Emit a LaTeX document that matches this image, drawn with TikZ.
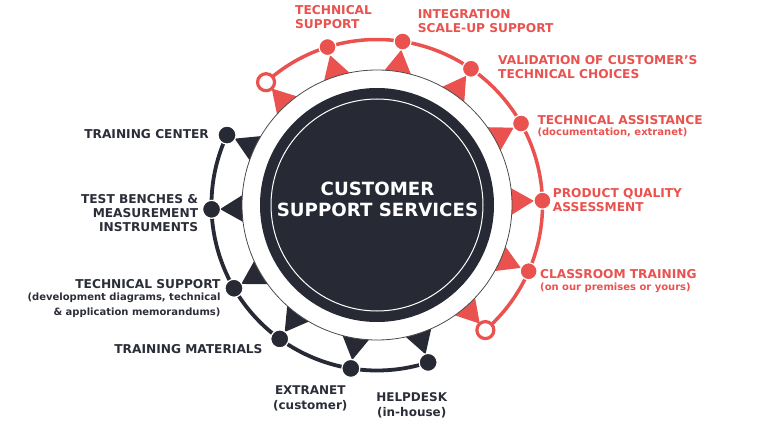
\documentclass[tikz,border=0pt]{standalone}
\usepackage{fontspec}
\setmainfont{DejaVu Sans}
\definecolor{cred}{HTML}{E9524F}
\definecolor{cdark}{HTML}{272A35}
\definecolor{ctext}{HTML}{2B2E39}
\definecolor{cgrey}{HTML}{4A4A4A}
\begin{document}
\begin{tikzpicture}[x=1pt,y=1pt,
  redline/.style={draw=cred,line width=3.5pt},
  darkline/.style={draw=cdark,line width=3.8pt},
  reddot/.style={circle,fill=cred,draw=white,line width=1.2pt,minimum size=17pt,inner sep=0pt},
  opendot/.style={circle,fill=white,draw=cred,line width=3.2pt,minimum size=17pt,inner sep=0pt},
  darkdot/.style={circle,fill=cdark,draw=white,line width=1.2pt,minimum size=18pt,inner sep=0pt},
  redlbl/.style={text=cred,font=\bfseries\fontsize{12.2}{14}\selectfont,inner sep=0pt,align=left,anchor=base west},
  redsub/.style={text=cred,font=\bfseries\fontsize{10}{12}\selectfont,inner sep=0pt,align=left,anchor=base west},
  darklbl/.style={text=ctext,font=\bfseries\fontsize{12.2}{14.2}\selectfont,inner sep=0pt,align=right,anchor=base east},
  darksub/.style={text=ctext,font=\bfseries\fontsize{10}{15}\selectfont,inner sep=0pt,align=right,anchor=base east},
  darkmid/.style={text=ctext,font=\bfseries\fontsize{12}{15}\selectfont,inner sep=0pt,align=center,anchor=base},
]
\useasboundingbox (0,0) rectangle (774,-425);
\coordinate (C) at (377,-205);
% dot positions
\coordinate (pR1) at ([shift={(C)}]132.1:165.5);
\coordinate (pR2) at ([shift={(C)}]107.4:165.5);
\coordinate (pR3) at ([shift={(C)}]81.1:165.5);
\coordinate (pR4) at ([shift={(C)}]55.4:165.5);
\coordinate (pR5) at ([shift={(C)}]29.5:165.5);
\coordinate (pR6) at ([shift={(C)}]1.5:165.5);
\coordinate (pR7) at ([shift={(C)}]-23.6:165.5);
\coordinate (pR8) at ([shift={(C)}]-49.1:165.5);
\coordinate (pD1) at ([shift={(C)}]155:165.5);
\coordinate (pD2) at ([shift={(C)}]181.5:165.5);
\coordinate (pD3) at ([shift={(C)}]210.2:165.5);
\coordinate (pD4) at ([shift={(C)}]234:165.5);
\coordinate (pD5) at ([shift={(C)}]260.9:165.5);
\coordinate (pD6) at ([shift={(C)}]288:165.5);
% rings
\draw[redline] (pR1) arc[start angle=132.1, end angle=-49.1, radius=165.5];
\draw[darkline] (pD1) arc[start angle=155, end angle=288, radius=165.5];
% triangles
\begin{scope}[shift={(C)}]
\foreach \a in {132.1,107.4,81.1,55.4,29.5,1.5,-23.6,-49.1}
  \fill[cred] (\a-6:134) -- (\a:157) -- (\a+6:134) -- cycle;
\foreach \a in {155,181.5,210.2,234,260.9,288}
  \fill[cdark] (\a-6:134) -- (\a:157) -- (\a+6:134) -- cycle;
\end{scope}
% hub
\node[circle,fill=white,draw=cgrey,line width=0.8pt,minimum size=270pt,inner sep=0pt] (ring) at (C) {};
\node[circle,fill=cdark,minimum size=234pt,inner sep=0pt] (hub) at (C) {};
\node[circle,draw=white,line width=1pt,minimum size=212pt,inner sep=0pt] (hubline) at (C) {};
\node[text=white,font=\bfseries\fontsize{18.2}{20.7}\selectfont,align=center,anchor=base,inner sep=0pt] (title) at (377.5,-216) {CUSTOMER\\SUPPORT SERVICES};
% dots
\node[opendot] (dR1) at (pR1) {};
\node[reddot] (dR2) at (pR2) {};
\node[reddot] (dR3) at (pR3) {};
\node[reddot] (dR4) at (pR4) {};
\node[reddot] (dR5) at (pR5) {};
\node[reddot] (dR6) at (pR6) {};
\node[reddot] (dR7) at (pR7) {};
\node[opendot] (dR8) at (pR8) {};
\node[darkdot] (dD1) at (pD1) {};
\node[darkdot] (dD2) at (pD2) {};
\node[darkdot] (dD3) at (pD3) {};
\node[darkdot] (dD4) at (pD4) {};
\node[darkdot] (dD5) at (pD5) {};
\node[darkdot] (dD6) at (pD6) {};
% red labels
\node[redlbl] (lR2) at (295,-29) {TECHNICAL\\SUPPORT};
\node[redlbl] (lR3) at (417.7,-32.3) {INTEGRATION\\SCALE-UP SUPPORT};
\node[redlbl] (lR4) at (498,-79) {VALIDATION OF CUSTOMER’S\\TECHNICAL CHOICES};
\node[redlbl] (lR5) at (537.3,-124.3) {TECHNICAL ASSISTANCE};
\node[redsub] (sR5) at (537.3,-136) {(documentation, extranet)};
\node[redlbl] (lR6) at (552.7,-211.7) {PRODUCT QUALITY\\ASSESSMENT};
\node[redlbl] (lR7) at (540,-278.3) {CLASSROOM TRAINING};
\node[redsub] (sR7) at (540,-290) {(on our premises or yours)};
% dark labels
\node[darklbl] (lD1) at (209,-138.3) {TRAINING CENTER};
\node[darklbl] (lD2) at (198.3,-231.7) {TEST BENCHES \&\\MEASUREMENT\\INSTRUMENTS};
\node[darklbl] (lD3) at (220.7,-288.3) {TECHNICAL SUPPORT};
\node[darksub] (sD3) at (220.7,-315) {(development diagrams, technical\\\& application memorandums)};
\node[darklbl] (lD4) at (262.7,-353.3) {TRAINING MATERIALS};
\node[darkmid] (lD5) at (310.3,-409.3) {EXTRANET\\(customer)};
\node[darkmid] (lD6) at (411.7,-416.7) {HELPDESK\\(in-house)};
\end{tikzpicture}
\end{document}
